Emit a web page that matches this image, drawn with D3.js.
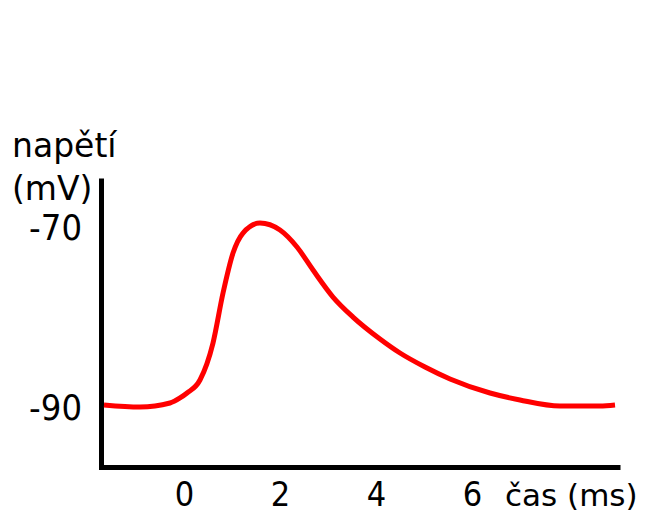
<!DOCTYPE html>
<html>
<head>
<meta charset="utf-8">
<script src="https://cdn.jsdelivr.net/npm/d3@7/dist/d3.min.js"></script>
<style>
  html, body { margin: 0; padding: 0; background: #fff; }
  svg { display: block; }
  .lbl { font-family: "DejaVu Sans", Verdana, sans-serif; fill: #000; }
  .num { font-family: "DejaVu Sans Condensed", "DejaVu Sans", sans-serif; fill: #000; }
</style>
</head>
<body>
<svg id="chart" width="647" height="512"></svg>
<script>
// Action potential: membrane voltage (mV) over time (ms)
const timeMs = [-1.667, -0.917, -0.292, -0.083, 0.063, 0.333, 0.604, 0.813, 1.021, 1.229,
                1.583, 2.0, 2.354, 2.688, 3.104, 3.521, 4.083, 4.5, 5.021, 5.542, 6.375,
                7.0, 7.833, 8.667, 8.979];
const voltageMv = [-89.83, -90.06, -89.61, -89.05, -88.5, -87.05, -82.94, -77.38, -72.93, -70.7,
                   -69.59, -70.37, -72.26, -74.82, -77.82, -80.05, -82.49, -84.05, -85.61, -86.94, -88.5,
                   -89.27, -89.94, -89.94, -89.83];
const xTicks = [0, 2, 4, 6];
const yTicks = [-90, -70];
const yTitle = ["napětí", "(mV)"];
const xTitle = "čas (ms)";

const svg = d3.select("#chart");

const x = d3.scaleLinear().domain([-1.781, 9.083]).range([98.5, 620]);
const y = d3.scaleLinear().domain([-97.01, -64.58]).range([469.5, 178]);

const axisX = 467, axisY = 101;
const plain = d => String(d);

// y axis
const gy = svg.append("g")
  .attr("transform", `translate(${axisY},0)`)
  .call(d3.axisLeft(y).tickValues(yTicks).tickSize(0).tickPadding(19).tickFormat(plain));
gy.select(".domain").attr("stroke", "#000").attr("stroke-width", 5);
gy.selectAll(".tick text")
  .attr("class", "num")
  .attr("font-size", 36)
  .attr("dy", "0.36em");

// x axis
const gx = svg.append("g")
  .attr("transform", `translate(0,${axisX})`)
  .call(d3.axisBottom(x).tickValues(xTicks).tickSize(0).tickPadding(15).tickFormat(plain));
gx.select(".domain").attr("stroke", "#000").attr("stroke-width", 5);
gx.selectAll(".tick text")
  .attr("class", "num")
  .attr("font-size", 34);

svg.selectAll(".tick line").remove();
svg.selectAll("g").attr("font-family", null).attr("font-size", null);

// axis titles
svg.append("text").attr("class", "lbl")
  .attr("x", 12).attr("y", 157).attr("font-size", 33).text(yTitle[0]);
svg.append("text").attr("class", "lbl")
  .attr("x", 12).attr("y", 200).attr("font-size", 33).text(yTitle[1]);
svg.append("text").attr("class", "lbl")
  .attr("x", 505).attr("y", 506).attr("font-size", 31).text(xTitle);

// voltage trace
const line = d3.line()
  .x((d, i) => x(timeMs[i]))
  .y(d => y(d))
  .curve(d3.curveMonotoneX);

svg.append("path")
  .datum(voltageMv)
  .attr("fill", "none")
  .attr("stroke", "#ff0000")
  .attr("stroke-width", 5)
  .attr("stroke-linecap", "butt")
  .attr("d", line);
</script>
</body>
</html>
